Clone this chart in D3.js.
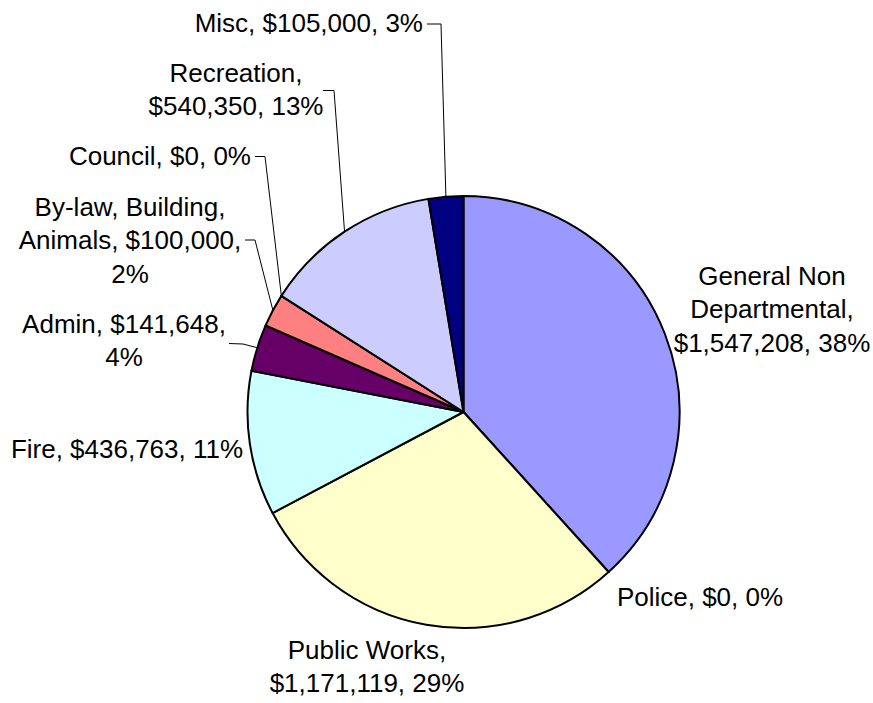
<!DOCTYPE html>
<html>
<head>
<meta charset="utf-8">
<script src="https://cdn.jsdelivr.net/npm/d3@7"></script>
<style>
  html, body { margin: 0; padding: 0; background: #ffffff; }
  svg { display: block; }
  text { font-family: "Liberation Sans", Arial, sans-serif; fill: #000; }
</style>
</head>
<body>
<script>
// ---- data ----
const categories = ["General Non Departmental", "Police", "Public Works", "Fire", "Admin",
                    "By-law, Building, Animals", "Council", "Recreation", "Misc"];
const values = [1547208, 0, 1171119, 436763, 141648, 100000, 0, 540350, 105000];
const percentLabels = ["38%", "0%", "29%", "11%", "4%", "2%", "0%", "13%", "3%"];
const colors = ["#9999FF", "#993366", "#FFFFCC", "#CCFFFF", "#660066", "#FF8080", "#0066CC", "#CCCCFF", "#000080"];

// ---- layout (label placement, words per line, leader elbow) ----
const labelLayout = [
  { x: 772, y: 285, anchor: "middle", wrap: [2, 1, 2] },
  { x: 700, y: 606, anchor: "middle", wrap: [3] },
  { x: 367, y: 659, anchor: "middle", wrap: [2, 2] },
  { x: 127, y: 458, anchor: "middle", wrap: [4] },
  { x: 124, y: 333, anchor: "middle", wrap: [2, 1], leader: [229, 343.5, 243, 344] },
  { x: 130, y: 216, anchor: "middle", wrap: [2, 2, 1], leader: [245, 240, 255, 240] },
  { x: 251, y: 165, anchor: "end", wrap: [3], leader: [255, 156.5, 265, 156.5] },
  { x: 236, y: 82, anchor: "middle", wrap: [1, 2], leader: [323, 90.5, 334, 90.5] },
  { x: 423, y: 32, anchor: "end", wrap: [3], leader: [427, 24, 441, 24] }
];

const W = 873, H = 703;
const cx = 463.5, cy = 412, R = 216;
const fontSize = 26, lineH = 33.3;

const svg = d3.select("body").append("svg").attr("width", W).attr("height", H);
const g = svg.append("g").attr("transform", `translate(${cx},${cy})`);

const pie = d3.pie().sort(null).value(d => d)(values);
const arc = d3.arc().innerRadius(0).outerRadius(R);

g.selectAll("path.slice")
  .data(pie)
  .join("path")
  .attr("class", "slice")
  .attr("d", arc)
  .attr("fill", (d, i) => colors[i])
  .attr("stroke", "#000")
  .attr("stroke-width", 2)
  .attr("stroke-linejoin", "round");

const fmt = d3.format("$,");

// leader lines
pie.forEach((d, i) => {
  const L = labelLayout[i];
  if (!L.leader) return;
  const a = d.startAngle === d.endAngle ? d.startAngle : (d.startAngle + d.endAngle) / 2;
  const ex = cx + R * Math.sin(a), ey = cy - R * Math.cos(a);
  svg.append("polyline")
    .attr("points", `${L.leader[0]},${L.leader[1]} ${L.leader[2]},${L.leader[3]} ${ex},${ey}`)
    .attr("fill", "none")
    .attr("stroke", "#000")
    .attr("stroke-width", 1);
});

// labels
categories.forEach((c, i) => {
  const L = labelLayout[i];
  const full = `${c}, ${fmt(values[i])}, ${percentLabels[i]}`;
  const tokens = full.split(" ");
  const lines = [];
  let k = 0;
  L.wrap.forEach(n => { lines.push(tokens.slice(k, k + n).join(" ")); k += n; });
  const t = svg.append("text")
    .attr("x", L.x).attr("y", L.y)
    .attr("text-anchor", L.anchor)
    .attr("font-size", fontSize);
  lines.forEach((ln, j) => {
    t.append("tspan").attr("x", L.x).attr("y", L.y + j * lineH).text(ln);
  });
});
</script>
</body>
</html>
